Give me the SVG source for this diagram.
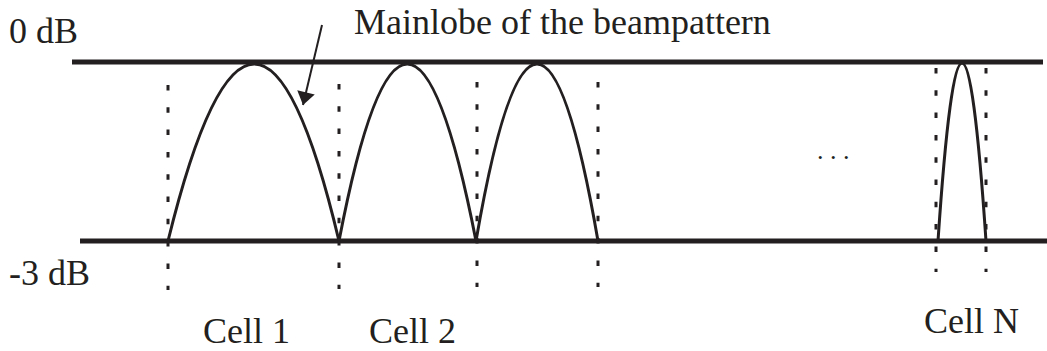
<svg xmlns="http://www.w3.org/2000/svg" width="1047" height="351" viewBox="0 0 1047 351">
<style>
  text { font-family: "Liberation Serif", "Times New Roman", serif; font-size: 36px; fill: #231f20; }
  .bar { stroke: #231f20; stroke-width: 5; fill: none; }
  .lobe { stroke: #231f20; stroke-width: 3; fill: none; }
  .dot { stroke: #231f20; stroke-width: 3; stroke-dasharray: 5.5 16.8; fill: none; }
  .arrow { stroke: #231f20; stroke-width: 2; fill: none; }
</style>
<defs>
  <marker id="ah" markerUnits="userSpaceOnUse" markerWidth="20" markerHeight="20" refX="13" refY="0" viewBox="0 -10 14 20" orient="auto">
    <path d="M0,-9 L13,0 L0,9 Z" fill="#231f20"/>
  </marker>
</defs>
<rect width="1047" height="351" fill="#ffffff"/>
<g id="levels">
  <line class="bar" x1="72" y1="62" x2="1043" y2="62"/>
  <line class="bar" x1="80" y1="241" x2="1047" y2="241"/>
  <text id="label-0db" x="9" y="43">0 dB</text>
  <text id="label-3db" x="9" y="285">-3 dB</text>
</g>
<g id="cell-boundaries">
  <line class="dot" x1="168" y1="85" x2="168" y2="290"/>
  <line class="dot" x1="339" y1="84" x2="339" y2="289"/>
  <line class="dot" x1="477" y1="82" x2="477" y2="287"/>
  <line class="dot" x1="598" y1="82" x2="598" y2="287"/>
  <line class="dot" x1="936" y1="68" x2="936" y2="272"/>
  <line class="dot" x1="986" y1="68" x2="986" y2="272"/>
</g>
<g id="cell1">
  <path class="lobe" d="M168,241 Q255,-113 339,241"/>
  <text x="203" y="343">Cell 1</text>
</g>
<g id="cell2">
  <path class="lobe" d="M339,241 Q407,-113 476,241"/>
  <text x="369" y="343">Cell 2</text>
</g>
<g id="cell3">
  <path class="lobe" d="M476,241 Q537,-113 598,241"/>
</g>
<g id="ellipsis">
  <text x="817" y="159" style="font-size:26px; letter-spacing:6.5px">...</text>
</g>
<g id="cellN">
  <path class="lobe" d="M938,241 Q962,-115 986,241"/>
  <text x="924" y="333">Cell N</text>
</g>
<g id="annotation">
  <text x="354" y="34">Mainlobe of the beampattern</text>
</g>
<g id="connectors">
  <line class="arrow" x1="322" y1="25" x2="303" y2="105" marker-end="url(#ah)"/>
</g>
</svg>
